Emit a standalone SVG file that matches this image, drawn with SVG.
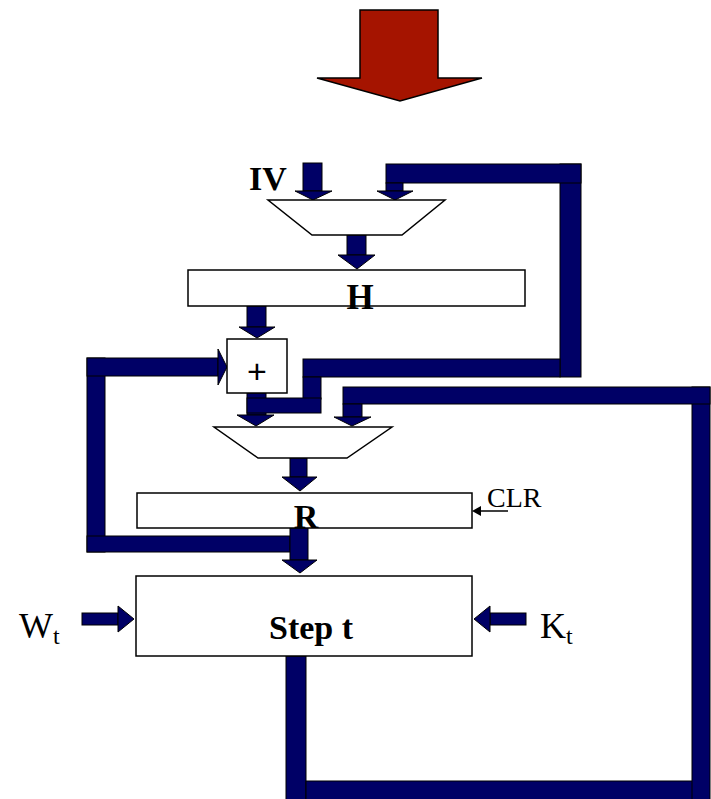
<svg xmlns="http://www.w3.org/2000/svg" width="711" height="799" viewBox="0 0 711 799">
<style>
.bus{fill:#000066;stroke:#000;stroke-width:1}
.box{fill:#fff;stroke:#000;stroke-width:1.5}
.lbl{font-family:"Liberation Serif","Times New Roman",serif;fill:#000}
.b{font-weight:bold}
</style>
<rect width="711" height="799" fill="#fff"/>
<g id="red-arrow">
<polygon points="360,10 438,10 438,78 482,78 400,101 317,78 360,78" fill="#A51400" stroke="#000" stroke-width="1.5"/>
</g>
<g id="connectors">
<!-- IV input -->
<rect class="bus" x="303" y="163" width="19" height="28"/>
<polygon class="bus" points="295,191 332,191 313,200"/>
<!-- feedback H loop into top mux -->
<rect class="bus" x="560" y="164" width="21" height="213"/>
<rect class="bus" x="386" y="164" width="195" height="19"/>
<rect class="bus" x="386" y="183" width="17" height="8"/>
<polygon class="bus" points="377,191 413,191 395,200"/>
<rect class="bus" x="303" y="359" width="257" height="18"/>
<rect class="bus" x="303" y="377" width="18" height="22"/>
<!-- mux to H -->
<rect class="bus" x="347" y="235" width="19" height="20"/>
<polygon class="bus" points="338,255 375,255 357,269"/>
<!-- H to + -->
<rect class="bus" x="247" y="306" width="19" height="21"/>
<polygon class="bus" points="239,327 275,327 257,338"/>
<!-- left loop R to + -->
<rect class="bus" x="87" y="358" width="18" height="194"/>
<rect class="bus" x="87" y="358" width="131" height="18"/>
<polygon class="bus" points="218,349 218,385 227,367"/>
<rect class="bus" x="87" y="536" width="203" height="16"/>
<rect class="bus" x="290" y="528" width="18" height="32"/>
<polygon class="bus" points="282,560 317,560 300,573"/>
<!-- + output to mux2 -->
<rect class="bus" x="247" y="393" width="19" height="22"/>
<rect class="bus" x="247" y="398" width="74" height="15"/>
<polygon class="bus" points="237,415 274,415 256,426"/>
<!-- right loop Step t to mux2 -->
<rect class="bus" x="286" y="656" width="20" height="145"/>
<rect class="bus" x="306" y="781" width="402" height="20"/>
<rect class="bus" x="692" y="387" width="18" height="414"/>
<rect class="bus" x="343" y="387" width="367" height="17"/>
<rect class="bus" x="343" y="404" width="19" height="13"/>
<polygon class="bus" points="334,417 371,417 352,426"/>
<!-- mux2 to R -->
<rect class="bus" x="290" y="458" width="17" height="19"/>
<polygon class="bus" points="282,477 317,477 300,491"/>
<!-- W_t, K_t -->
<rect class="bus" x="82" y="613" width="36" height="12"/>
<polygon class="bus" points="118,606 118,632 134,619"/>
<rect class="bus" x="490" y="613" width="36" height="12"/>
<polygon class="bus" points="490,606 490,632 474,619"/>
<!-- CLR -->
<line x1="508" y1="511" x2="478" y2="511" stroke="#000" stroke-width="1.5"/>
<polygon points="472,511 481,506 481,516" fill="#000"/>
</g>
<g id="mux-top">
<polygon class="box" points="268,200 445,200 402,235 312,235"/>
</g>
<g id="iv-label">
<text class="lbl b" x="249" y="190" font-size="34">IV</text>
</g>
<g id="H">
<rect class="box" x="188" y="270" width="337" height="36"/>
<text class="lbl b" x="360" y="309" font-size="35" text-anchor="middle">H</text>
</g>
<g id="adder">
<rect class="box" x="227" y="339" width="60" height="54"/>
<text x="257" y="383" font-family="Liberation Sans,Arial,sans-serif" font-size="34" text-anchor="middle">+</text>
</g>
<g id="mux-mid">
<polygon class="box" points="214,427 392,427 347,458 258,458"/>
</g>
<g id="R">
<rect class="box" x="137" y="493" width="335" height="35"/>
<text class="lbl b" x="306" y="528" font-size="34" text-anchor="middle">R</text>
</g>
<g id="clr-label">
<text class="lbl" x="487" y="507" font-size="28">CLR</text>
</g>
<g id="step">
<rect class="box" x="136" y="576" width="336" height="80"/>
<text class="lbl b" x="311" y="639" font-size="34" text-anchor="middle">Step t</text>
</g>
<g id="wt-label">
<text class="lbl" x="19" y="638" font-size="36">W<tspan font-size="24" dy="6">t</tspan></text>
</g>
<g id="kt-label">
<text class="lbl" x="540" y="638" font-size="36">K<tspan font-size="24" dy="6">t</tspan></text>
</g>
</svg>
